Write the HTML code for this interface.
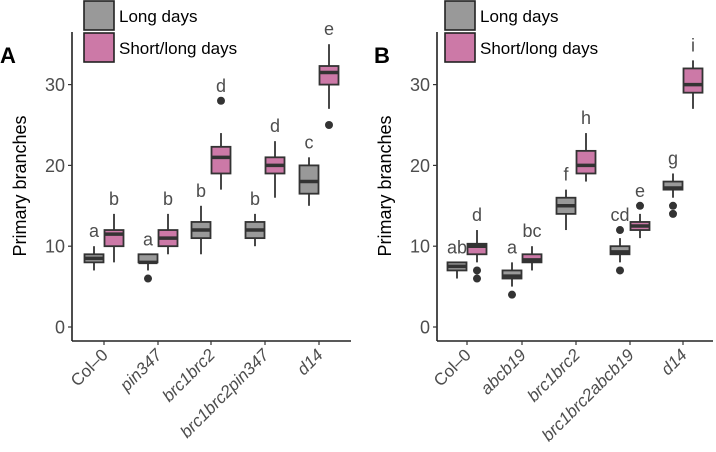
<!DOCTYPE html>
<html><head><meta charset="utf-8">
<style>
body{margin:0;background:#fff;}
svg{display:block;font-family:"Liberation Sans",Arial,sans-serif;}
</style></head>
<body>
<svg id="chart" width="716" height="452" viewBox="0 0 716 452" xmlns="http://www.w3.org/2000/svg"></svg>
<script>
const catsA = ["Col–0","pin347","brc1brc2","brc1brc2pin347","d14"];
const italicA = [false,true,true,true,true];
const catsB = ["Col–0","abcb19","brc1brc2","brc1brc2abcb19","d14"];
const italicB = [false,true,true,true,true];
const yTicks = [0,10,20,30];
// [whiskerLow, q1, median, q3, whiskerHigh]
const longA = [[7,8,8.5,9,10],[7,8,8,9,9],[9,11,12,13,15],[10,11,12,13,14],[15,16.5,18,20,21]];
const shortA = [[8,10,11.5,12,14],[9,10,11,12,14],[17,19,21,22.3,24],[16,19,20,21,23],[27,30,31.5,32.3,35]];
const longOutA = [[],[6],[],[],[]];
const shortOutA = [[],[],[28],[],[25]];
const lettersLongA = ["a","a","b","b","c"];
const lettersShortA = ["b","b","d","d","e"];
const longB = [[6,7,7.5,8,8],[5,6,6.3,7,8],[12,14,15,16,17],[8,9,9.3,10,11],[16,17,17.2,18,19]];
const shortB = [[8,9,10,10.3,12],[7,8,8.3,9,10],[18,19,20,21.8,24],[11,12,12.5,13,14],[27,29,30,32,33]];
const longOutB = [[],[4],[],[12,7],[15,14]];
const shortOutB = [[7,6],[],[],[15],[]];
const lettersLongB = ["ab","a","f","cd","g"];
const lettersShortB = ["d","bc","h","e","i"];

const svg = document.getElementById('chart');
const NS = "http://www.w3.org/2000/svg";
function mk(tag, attrs, parent){const e=document.createElementNS(NS,tag);for(const k in attrs)e.setAttribute(k,attrs[k]);(parent||svg).appendChild(e);return e;}
const yScale = v => 327 - v*8.08;

function panel(id, axisX, axisEnd, tickX, cats, ital, longD, shortD, longO, shortO, lettL, lettS, legX, labelX){
  const g = mk('g',{});
  
  
  const pl = mk('text',{x:labelX,y:63,'font-size':22,'font-weight':'bold',fill:'#000'},g);
  pl.textContent = id;
  
  
  const ya = mk('line',{x1:axisX,y1:32,x2:axisX,y2:341,stroke:'#222','stroke-width':1.6},g);
  
  
  const xa = mk('line',{x1:axisX,y1:341,x2:axisEnd,y2:341,stroke:'#222','stroke-width':1.6},g);
  
  
  yTicks.forEach(t=>{
    const y=yScale(t);
    mk('line',{x1:axisX-4,y1:y,x2:axisX,y2:y,stroke:'#333','stroke-width':1.2},g);
    const tl = mk('text',{x:axisX-7,y:y+6.5,'font-size':18,'text-anchor':'end',fill:'#4d4d4d'},g);
    tl.textContent = t;
    
    
  });
  const yt = mk('text',{x:0,y:0,'font-size':18,'text-anchor':'middle',fill:'#000',transform:`translate(${axisX-46},186) rotate(-90)`},g);
  yt.textContent = 'Primary branches';
  
  
  cats.forEach((c,i)=>{
    const x = tickX[i];
    mk('line',{x1:x,y1:341,x2:x,y2:345,stroke:'#333','stroke-width':1.2},g);
    const xl = mk('text',{x:0,y:0,'font-size':17,'text-anchor':'end',fill:'#4d4d4d','font-style':ital[i]?'italic':'normal',transform:`translate(${x+5},356) rotate(-45)`},g);
    xl.textContent = c;
    
    
    [[longD,longO,lettL,-10,'#999999','long'],[shortD,shortO,lettS,10,'#cc79a7','short']].forEach(([D,O,L,off,col,nm])=>{
      const d = D[i], cx = x+off, w=19;
      const bg = mk('g',{},g);
      
      
      mk('line',{x1:cx,y1:yScale(d[0]),x2:cx,y2:yScale(d[4]),stroke:'#333','stroke-width':1.8},bg);
      mk('rect',{x:cx-w/2,y:yScale(d[3]),width:w,height:yScale(d[1])-yScale(d[3]),fill:col,stroke:'#333','stroke-width':1.8},bg);
      mk('line',{x1:cx-w/2,y1:yScale(d[2]),x2:cx+w/2,y2:yScale(d[2]),stroke:'#333','stroke-width':3.5},bg);
      O[i].forEach(o=>{
        const p = mk('circle',{cx:cx,cy:yScale(o),r:4,fill:'#333'},bg);
        
        
      });
      const top = Math.max(d[4], ...O[i]);
      const lt = mk('text',{x:cx,y:yScale(top)-9,'font-size':18,'text-anchor':'middle',fill:'#4d4d4d'},bg);
      lt.textContent = L[i];
      
      
    });
  });
  const lg = mk('g',{},g);
  
  
  [['Long days','#999999',1],['Short/long days','#cc79a7',33]].forEach(([t,col,y])=>{
    mk('rect',{x:legX,y:y,width:30,height:29,fill:col,stroke:'#222','stroke-width':1.6},lg);
    const tx = mk('text',{x:legX+35,y:y+21,'font-size':17,fill:'#000'},lg);
    tx.textContent = t;
    
    
  });
}
panel('A',72,351,[104,158,211,265,319],catsA,italicA,longA,shortA,longOutA,shortOutA,lettersLongA,lettersShortA,84,0);
panel('B',437,713,[467,522,576,630,683],catsB,italicB,longB,shortB,longOutB,shortOutB,lettersLongB,lettersShortB,445,374);
</script>
</body></html>
